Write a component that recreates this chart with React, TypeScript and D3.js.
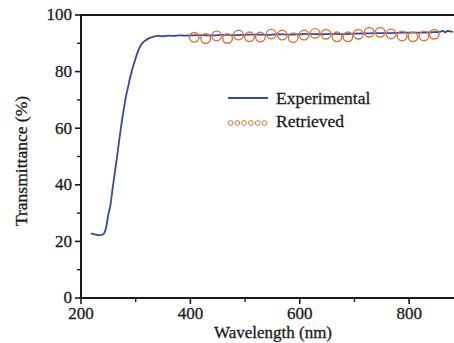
import React from 'react';
import * as d3 from 'd3';

// experimental transmittance curve (nm, %)
const expWavelength = [218, 225, 232, 238, 242, 246, 250, 254, 258, 262, 266, 270, 274, 278, 282, 286, 290, 294, 298, 302, 306, 310, 315, 320, 326, 332, 340, 350, 360, 370, 380, 390, 400, 420, 440, 460, 480, 500, 520, 540, 560, 580, 600, 620, 640, 660, 680, 700, 720, 740, 760, 780, 800, 820, 840, 855, 862, 866, 870, 875, 880];
const expTransmittance = [22.8, 22.5, 22.2, 22.3, 22.8, 25, 29.5, 33, 39, 44.5, 50, 56, 61.5, 66.5, 71, 74.5, 78, 81, 83.5, 86, 88, 89.5, 90.6, 91.3, 91.9, 92.3, 92.6, 92.5, 92.7, 92.6, 92.8, 92.7, 92.8, 92.9, 92.8, 93.0, 92.9, 93.0, 93.1, 93.0, 93.2, 93.1, 93.2, 93.3, 93.2, 93.3, 93.2, 93.4, 93.5, 93.6, 93.6, 93.7, 93.8, 93.8, 93.9, 94.0, 94.4, 93.8, 94.4, 94.2, 94.0];

// retrieved points
const retWavelength = [407, 428, 448, 468, 488, 508, 528, 548, 568, 588, 608, 628, 648, 668, 688, 707, 727, 747, 767, 787, 807, 827, 846];
const retTransmittance = [92.1, 91.7, 92.6, 91.7, 92.9, 92.3, 92.2, 93.3, 92.9, 92.0, 92.9, 93.5, 93.2, 92.3, 92.3, 93.2, 93.9, 93.9, 93.3, 92.6, 92.3, 92.6, 93.2];

const xTicks = [200, 400, 600, 800];
const xMinor = [300, 500, 700];
const yTicks = [0, 20, 40, 60, 80, 100];
const yMinor = [10, 30, 50, 70, 90];

const W = 454, H = 343;
const left = 81, top = 15, bottom = 298, right = 454;
const blue = '#3549a3';
const orange = '#d9763f';
const font = 'Liberation Serif';
const ink = '#1a1a1a';

export default function App() {
  const x = d3.scaleLinear().domain([200, 882]).range([left, right]);
  const y = d3.scaleLinear().domain([0, 100]).range([bottom, top]);

  const line = d3.line<number>()
    .x((d, i) => x(expWavelength[i]))
    .y(d => y(d))
    .curve(d3.curveMonotoneX);

  const txt = { fontFamily: font, fill: ink, stroke: ink, strokeWidth: 0.3 };

  return (
    <svg width={W} height={H} style={{ position: 'absolute', left: 0, top: 0 }}>
      <rect width={W} height={H} fill="#fff" />
      <path d={line(expTransmittance) || ''} fill="none" stroke={blue} strokeWidth={1.8} />
      {retWavelength.map((w, i) => (
        <circle key={i} cx={x(w)} cy={y(retTransmittance[i])} r={4.8} fill="none" stroke={orange} strokeWidth={1.4} />
      ))}

      {/* axes */}
      <line x1={left} x2={right} y1={top} y2={top} stroke={ink} strokeWidth={2} />
      <line x1={left} x2={left} y1={top - 1} y2={bottom + 1} stroke={ink} strokeWidth={2} />
      <line x1={left - 1} x2={right} y1={bottom} y2={bottom} stroke={ink} strokeWidth={2} />

      {yTicks.map(t => (
        <g key={'y' + t}>
          <line x1={left - 6} x2={left} y1={y(t)} y2={y(t)} stroke={ink} strokeWidth={1.6} />
          <text x={left - 9} y={y(t)} dy="0.32em" textAnchor="end" fontSize={17} {...txt}>{t}</text>
        </g>
      ))}
      {yMinor.map(t => (
        <line key={'ym' + t} x1={left - 4} x2={left} y1={y(t)} y2={y(t)} stroke={ink} strokeWidth={1.4} />
      ))}
      {xTicks.map(t => (
        <g key={'x' + t}>
          <line x1={x(t)} x2={x(t)} y1={bottom} y2={bottom + 6} stroke={ink} strokeWidth={1.6} />
          <text x={x(t)} y={bottom + 21} textAnchor="middle" fontSize={17} {...txt}>{t}</text>
        </g>
      ))}
      {xMinor.map(t => (
        <line key={'xm' + t} x1={x(t)} x2={x(t)} y1={bottom} y2={bottom + 4} stroke={ink} strokeWidth={1.4} />
      ))}

      <text x={273} y={338} textAnchor="middle" fontSize={17} {...txt}>Wavelength (nm)</text>
      <text transform="translate(27,161) rotate(-90)" textAnchor="middle" fontSize={17.5} {...txt}>Transmittance (%)</text>

      {/* legend */}
      <line x1={228} x2={268} y1={98} y2={98} stroke={blue} strokeWidth={1.8} />
      <text x={276} y={104} fontSize={17.5} {...txt}>Experimental</text>
      {[0, 1, 2, 3, 4, 5].map(i => (
        <circle key={i} cx={230.5 + i * 6.8} cy={123} r={2.4} fill="none" stroke={orange} strokeWidth={1} />
      ))}
      <text x={276} y={127} fontSize={17.5} {...txt}>Retrieved</text>
    </svg>
  );
}
